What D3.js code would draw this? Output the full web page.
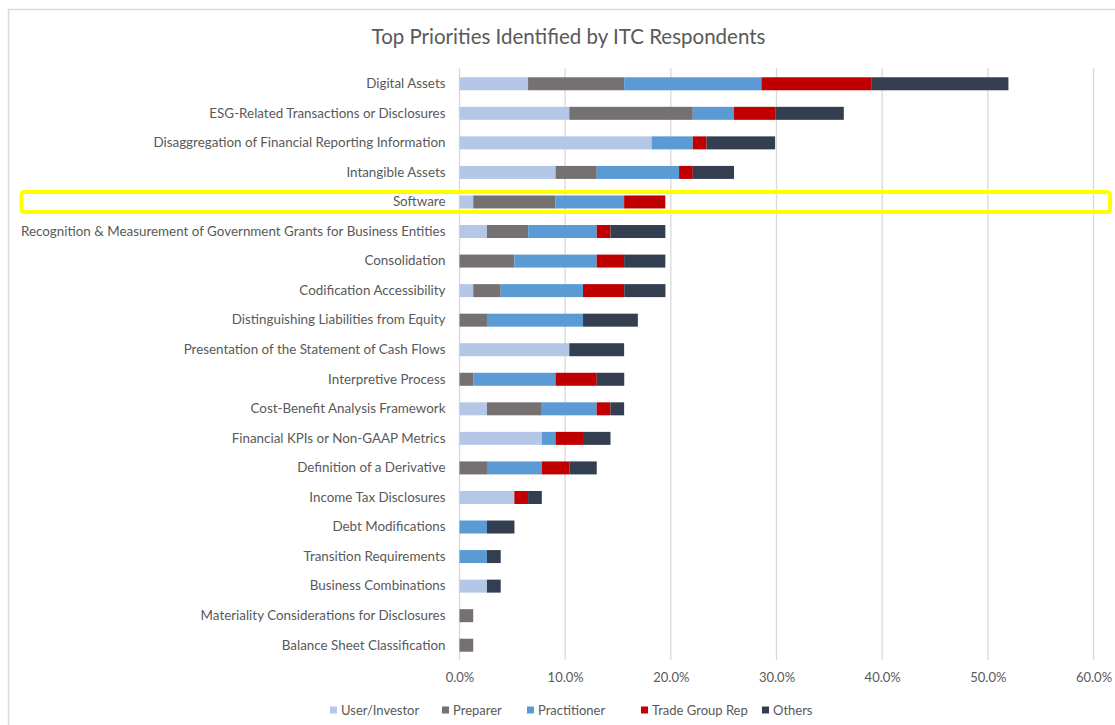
<!DOCTYPE html>
<html>
<head>
<meta charset="utf-8">
<script src="https://cdn.jsdelivr.net/npm/d3@7"></script>
<style>
  html, body { margin: 0; padding: 0; background: #fff; }
  svg { display: block; }
  text { font-family: Lato, "Open Sans", sans-serif; fill: #595959; }
</style>
</head>
<body>
<svg id="chart" width="1115" height="725"></svg>
<script>
// ---- Data (percent of respondents) ----
const categories = [
  "Digital Assets",
  "ESG-Related Transactions or Disclosures",
  "Disaggregation of Financial Reporting Information",
  "Intangible Assets",
  "Software",
  "Recognition & Measurement of Government Grants for Business Entities",
  "Consolidation",
  "Codification Accessibility",
  "Distinguishing Liabilities from Equity",
  "Presentation of the Statement of Cash Flows",
  "Interpretive Process",
  "Cost-Benefit Analysis Framework",
  "Financial KPIs or Non-GAAP Metrics",
  "Definition of a Derivative",
  "Income Tax Disclosures",
  "Debt Modifications",
  "Transition Requirements",
  "Business Combinations",
  "Materiality Considerations for Disclosures",
  "Balance Sheet Classification"
];
const seriesNames = ["User/Investor", "Preparer", "Practitioner", "Trade Group Rep", "Others"];
const userInvestor  = [6.49, 10.39, 18.18, 9.09, 1.30, 2.60, 0,    1.30, 0,    10.39, 0,    2.60, 7.79, 0,    5.19, 0,    0,    2.60, 0,    0];
const preparer      = [9.09, 11.69, 0,     3.90, 7.79, 3.90, 5.19, 2.60, 2.60, 0,     1.30, 5.19, 0,    2.60, 0,    0,    0,    0,    1.30, 1.30];
const practitioner  = [12.99, 3.90, 3.90,  7.79, 6.49, 6.49, 7.79, 7.79, 9.09, 0,     7.79, 5.19, 1.30, 5.19, 0,    2.60, 2.60, 0,    0,    0];
const tradeGroupRep = [10.39, 3.90, 1.30,  1.30, 3.90, 1.30, 2.60, 3.90, 0,    0,     3.90, 1.30, 2.60, 2.60, 1.30, 0,    0,    0,    0,    0];
const others        = [12.99, 6.49, 6.49,  3.90, 0,    5.19, 3.90, 3.90, 5.19, 5.19,  2.60, 1.30, 2.60, 2.60, 1.30, 2.60, 1.30, 1.30, 0,    0];
const xTicks = [0, 10, 20, 30, 40, 50, 60];
const highlighted = "Software";

const colors = ["#B4C7E7", "#767171", "#5B9BD5", "#C00000", "#333F50"];

// ---- Build table ----
const seriesValues = [userInvestor, preparer, practitioner, tradeGroupRep, others];
const keys = seriesNames;
const rows = categories.map((c, i) => {
  const r = { category: c };
  keys.forEach((k, j) => r[k] = seriesValues[j][i]);
  return r;
});
const stacked = d3.stack().keys(keys)(rows);

// ---- Layout ----
const svg = d3.select("#chart");
const W = 1115, H = 725;
const m = { left: 459.5, right: 1115 - 1093.5, top: 69, bottom: 725 - 660 };

const x = d3.scaleLinear().domain([0, 60]).range([m.left, W - m.right]);
const y = d3.scaleBand().domain(categories).range([m.top, H - m.bottom]).paddingInner(0.56).paddingOuter(0.28);

// Outer chart border
svg.append("rect")
  .attr("x", 8.5).attr("y", 9.5)
  .attr("width", 1130).attr("height", 740)
  .attr("fill", "none").attr("stroke", "#D9D9D9").attr("stroke-width", 1.5);

// Title
svg.append("text")
  .attr("x", 568.5).attr("y", 44)
  .attr("text-anchor", "middle")
  .style("font-size", "20.5px")
  .text("Top Priorities Identified by ITC Respondents");

// Gridlines
svg.append("g")
  .selectAll("line")
  .data(xTicks)
  .join("line")
  .attr("x1", d => x(d)).attr("x2", d => x(d))
  .attr("y1", m.top - 1).attr("y2", H - m.bottom)
  .attr("stroke", "#D9D9D9").attr("stroke-width", 1.3);

// X axis
const xAxis = d3.axisBottom(x).tickValues(xTicks).tickFormat(d => d.toFixed(1) + "%").tickSize(0).tickPadding(13);
const gx = svg.append("g").attr("transform", `translate(0,${H - m.bottom})`).call(xAxis);
gx.select(".domain").remove();
gx.selectAll("text").style("font-size", "13px").style("font-family", "Lato, 'Open Sans', sans-serif").attr("fill", "#595959");

// Y axis labels
const yAxis = d3.axisLeft(y).tickSize(0).tickPadding(14);
const gy = svg.append("g").attr("transform", `translate(${m.left},0)`).call(yAxis);
gy.select(".domain").remove();
gy.selectAll("text").style("font-size", "13.4px").style("font-family", "Lato, 'Open Sans', sans-serif").attr("fill", "#595959");

// Bars
svg.append("g")
  .selectAll("g")
  .data(stacked)
  .join("g")
  .attr("fill", (d, i) => colors[i])
  .selectAll("rect")
  .data(d => d)
  .join("rect")
  .attr("x", d => x(d[0]))
  .attr("y", d => y(d.data.category))
  .attr("width", d => Math.max(0, x(d[1]) - x(d[0])))
  .attr("height", y.bandwidth());

// Highlight box
const hy = y(highlighted) + y.bandwidth() / 2;
svg.append("rect")
  .attr("x", 21.5).attr("y", hy - 10)
  .attr("width", 1110 - 21.5).attr("height", 20)
  .attr("rx", 2.5).attr("ry", 2.5)
  .attr("fill", "none").attr("stroke", "#FFFF00").attr("stroke-width", 4);

// Legend
const legendX = [330, 442, 527, 641, 762];
const lg = svg.append("g").attr("transform", "translate(0,710)");
const items = lg.selectAll("g").data(seriesNames).join("g")
  .attr("transform", (d, i) => `translate(${legendX[i]},0)`);
items.append("rect").attr("x", 0).attr("y", -3.5).attr("width", 7).attr("height", 7)
  .attr("fill", (d, i) => colors[i]);
items.append("text").attr("x", 11).attr("y", 0).attr("dy", "0.35em")
  .style("font-size", "13px").text(d => d);
</script>
</body>
</html>
